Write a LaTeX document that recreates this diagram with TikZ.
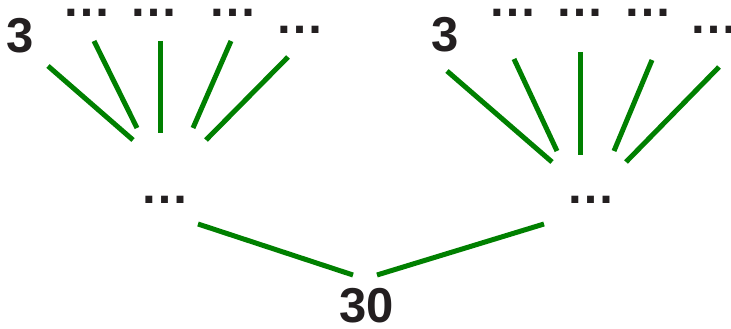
\documentclass[tikz,border=0pt]{standalone}
\usepackage{fontspec}
\setmainfont{Liberation Sans}
\definecolor{edgegreen}{RGB}{0,128,0}
\definecolor{inkblack}{RGB}{35,31,32}
\tikzset{
  lbl/.style={anchor=base, inner sep=0pt, text=inkblack, font=\fontsize{49}{49}\selectfont\bfseries},
  edge/.style={draw=edgegreen, line width=5pt, line cap=butt}
}
\begin{document}
\begin{tikzpicture}[x=1pt,y=-1pt]
\useasboundingbox (0,0) rectangle (731,329);
% left group labels
\node[lbl] (l3) at (20,53) {3};
\node[lbl] (la) at (86.5,17) {…};
\node[lbl] (lb) at (153.5,17) {…};
\node[lbl] (lc) at (232.5,17) {…};
\node[lbl] (ld) at (300,34) {…};
\node[lbl] (lm) at (165,203) {…};
% right group labels
\node[lbl] (r3) at (445,52) {3};
\node[lbl] (ra) at (512.5,17) {…};
\node[lbl] (rb) at (580,17) {…};
\node[lbl] (rc) at (647.5,17) {…};
\node[lbl] (rd) at (714,34) {…};
\node[lbl] (rm) at (591,203) {…};
% root
\node[lbl] (root) at (367,322) {30};
% connector end points, left fan
\coordinate (l1s) at (48,66);  \coordinate (l1e) at (133,140);
\coordinate (l2s) at (94,41);  \coordinate (l2e) at (137,128);
\coordinate (l3s) at (160,41); \coordinate (l3e) at (160,133);
\coordinate (l4s) at (231,41); \coordinate (l4e) at (193,128);
\coordinate (l5s) at (288,57); \coordinate (l5e) at (206,140);
% right fan
\coordinate (r1s) at (447,71); \coordinate (r1e) at (552,162);
\coordinate (r2s) at (514,59); \coordinate (r2e) at (557,151);
\coordinate (r3s) at (580,52); \coordinate (r3e) at (580,155);
\coordinate (r4s) at (652,60); \coordinate (r4e) at (614,151);
\coordinate (r5s) at (719,67); \coordinate (r5e) at (626,162);
% bottom
\coordinate (bls) at (198,224); \coordinate (ble) at (353,275);
\coordinate (brs) at (544,224); \coordinate (bre) at (377,275);
\foreach \a in {l1,l2,l3,l4,l5,r1,r2,r3,r4,r5,bl,br}
  \draw[edge] (\a s) -- (\a e);
\end{tikzpicture}
\end{document}
